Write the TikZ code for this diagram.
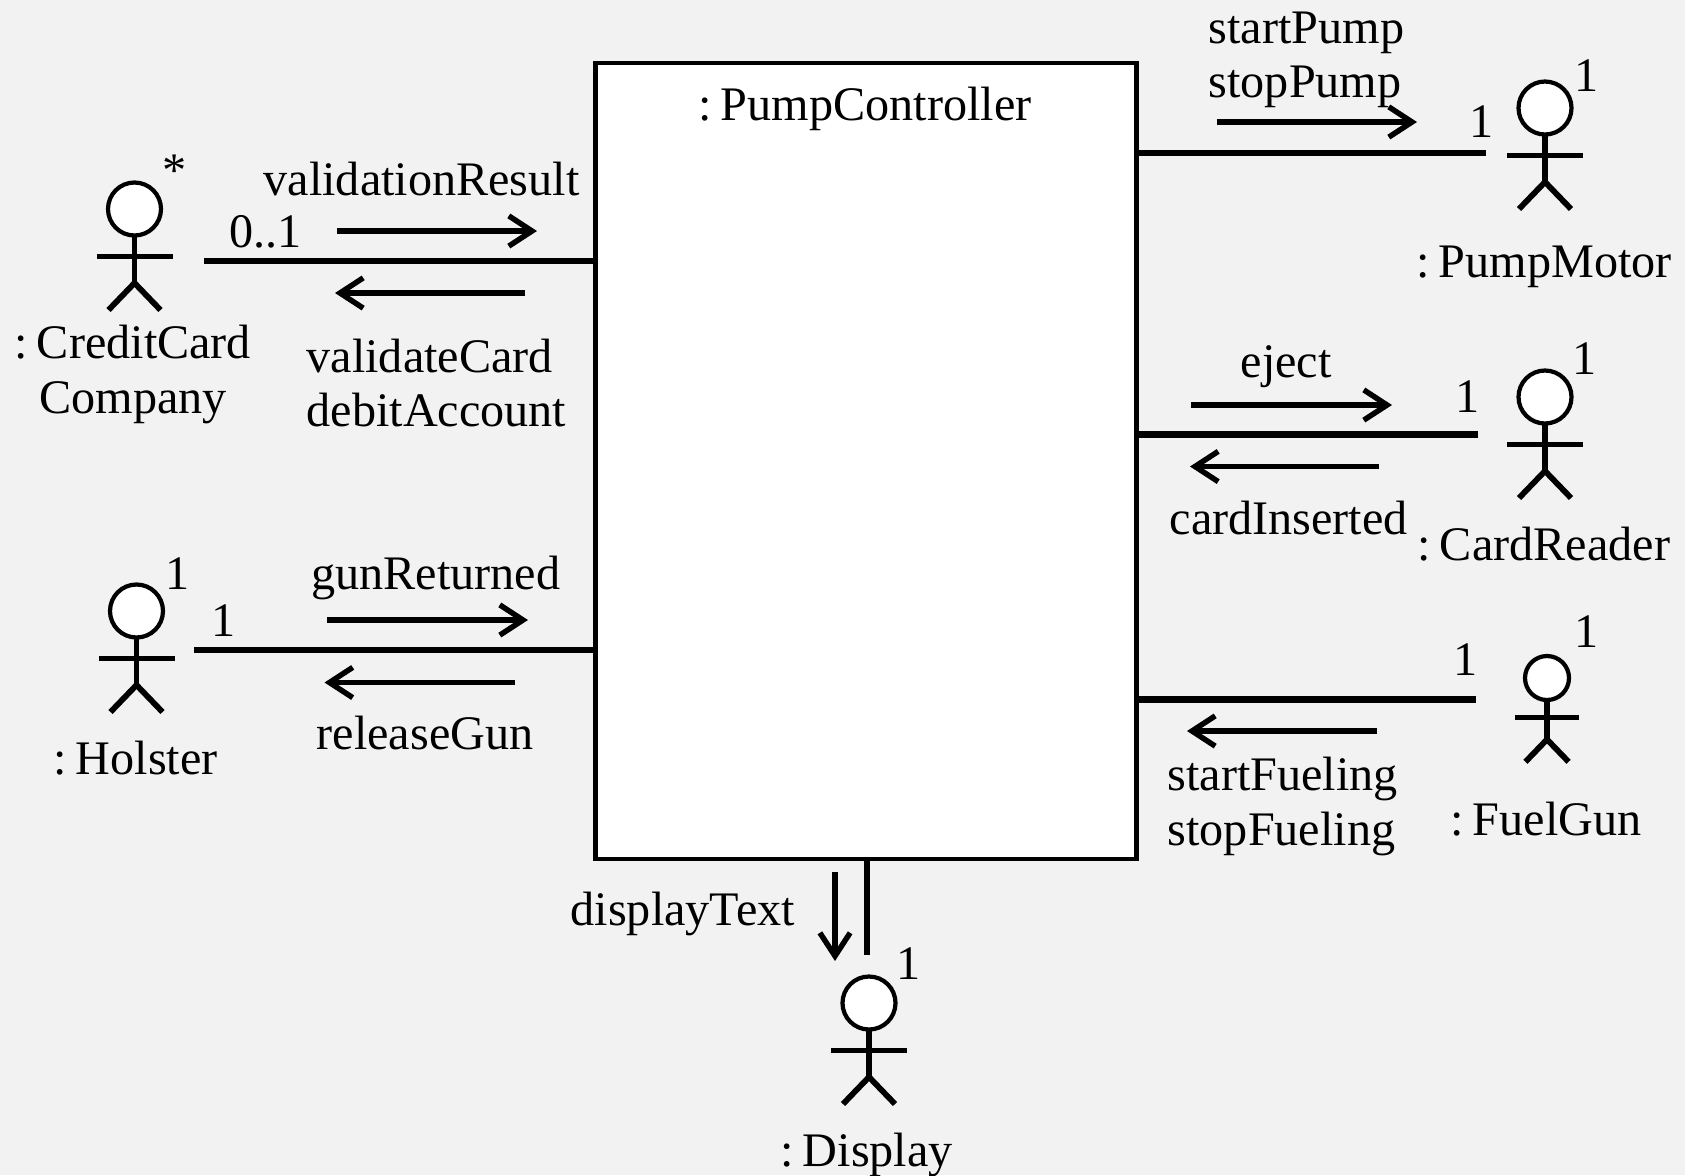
\documentclass[tikz,border=0pt]{standalone}
\usepackage{fontspec}
\setmainfont{Liberation Serif}
\usetikzlibrary{arrows.meta}
\definecolor{paper}{HTML}{F1F2F1}

\newcommand{\role}{:\kern-0.9pt\ }

\tikzset{
  lbl/.style={anchor=base west, inner sep=0pt, font=\fontsize{13.7}{16}\selectfont},
  assoc/.style={line width=1.75pt},
  msg/.style={line width=1.55pt, -{Straight Barb[length=6.6pt,width=8.6pt]}},
  actor/.pic={
    \draw[line width=1.2pt, fill=white] (0,0) circle (26.5);
    \draw[line width=1.65pt] (0,27) -- (0,74);
    \draw[line width=1.65pt] (-38,47.5) -- (38,47.5);
    \draw[line width=1.65pt] (-26,101) -- (0,74) -- (26,101);
  }
}

\begin{document}
\begin{tikzpicture}[x=0.01cm, y=-0.01cm]
  \useasboundingbox (0,0) rectangle (1685,1175);
  \fill[paper] (0,0) rectangle (1685,1175);

  % Controller box
  \node[draw, fill=white, line width=1.25pt, outer sep=0pt, minimum width=5.41cm, minimum height=7.95cm] (pc) at (866,461) {};
  \node[lbl] (pcLabel) at (698,120) {\role PumpController};

  % Credit card company
  \pic at (134.5,209) {actor};
  \coordinate (ccEnd) at (204,261);
  \draw[assoc] (pc.west |- ccEnd) -- (ccEnd);
  \coordinate (ccInA) at (337,231);
  \coordinate (ccInB) at (537,231);
  \draw[msg] (ccInA) -- (ccInB);
  \coordinate (ccOutA) at (525,293);
  \coordinate (ccOutB) at (335,293);
  \draw[msg] (ccOutA) -- (ccOutB);
  \node[lbl] (ccStar) at (162,186) {*};
  \node[lbl] (ccMult) at (229,247) {0..1};
  \node[lbl] (ccName) at (14,358) {\role CreditCard};
  \node[lbl] (ccNameB) at (39,413) {Company};
  \node[lbl] (ccResult) at (263,195) {validationResult};
  \node[lbl] (ccValidate) at (306,372) {validateCard};
  \node[lbl] (ccDebit) at (306,426) {debitAccount};

  % Holster
  \pic at (136.5,611) {actor};
  \coordinate (hoEnd) at (193.5,650);
  \draw[assoc] (pc.west |- hoEnd) -- (hoEnd);
  \coordinate (hoInA) at (327,620);
  \coordinate (hoInB) at (528,620);
  \draw[msg] (hoInA) -- (hoInB);
  \coordinate (hoOutA) at (515,682.5);
  \coordinate (hoOutB) at (324.5,682.5);
  \draw[msg] (hoOutA) -- (hoOutB);
  \node[lbl] (hoTop) at (165,589) {1};
  \node[lbl] (hoMult) at (211,636) {1};
  \node[lbl] (hoName) at (53,774) {\role Holster};
  \node[lbl] (hoReturned) at (310.5,589) {gunReturned};
  \node[lbl] (hoRelease) at (316,749) {releaseGun};

  % Pump motor
  \pic at (1545,108) {actor};
  \coordinate (pmEnd) at (1486,153);
  \draw[assoc] (pc.east |- pmEnd) -- (pmEnd);
  \coordinate (pmA) at (1217,122);
  \coordinate (pmB) at (1417,122);
  \draw[msg] (pmA) -- (pmB);
  \node[lbl] (pmTop) at (1574,91) {1};
  \node[lbl] (pmMult) at (1469,137) {1};
  \node[lbl] (pmName) at (1416,277) {\role PumpMotor};
  \node[lbl] (pmStart) at (1208,43) {startPump};
  \node[lbl] (pmStop) at (1208,97) {stopPump};

  % Card reader
  \pic at (1545,397) {actor};
  \coordinate (crEnd) at (1478,434.5);
  \draw[assoc] (pc.east |- crEnd) -- (crEnd);
  \coordinate (crInA) at (1191,405);
  \coordinate (crInB) at (1392,405);
  \draw[msg] (crInA) -- (crInB);
  \coordinate (crOutA) at (1379,466.5);
  \coordinate (crOutB) at (1190,466.5);
  \draw[msg] (crOutA) -- (crOutB);
  \node[lbl] (crTop) at (1572,374) {1};
  \node[lbl] (crMult) at (1455,412) {1};
  \node[lbl] (crName) at (1417,560) {\role CardReader};
  \node[lbl] (crEject) at (1240,377) {eject};
  \node[lbl] (crInserted) at (1169,534) {cardInserted};

  % Fuel gun
  \pic[scale=0.83] at (1547,678) {actor};
  \coordinate (fgEnd) at (1475.5,699.5);
  \draw[assoc] (pc.east |- fgEnd) -- (fgEnd);
  \coordinate (fgA) at (1377,731);
  \coordinate (fgB) at (1187,731);
  \draw[msg] (fgA) -- (fgB);
  \node[lbl] (fgTop) at (1574,647) {1};
  \node[lbl] (fgMult) at (1453,675) {1};
  \node[lbl] (fgName) at (1450,835) {\role FuelGun};
  \node[lbl] (fgStart) at (1167,790) {startFueling};
  \node[lbl] (fgStop) at (1167,845) {stopFueling};

  % Display
  \pic at (869,1003) {actor};
  \coordinate (diEnd) at (867,955);
  \draw[assoc] (pc.south -| diEnd) -- (diEnd);
  \coordinate (diA) at (835,871.5);
  \coordinate (diB) at (835,961);
  \draw[msg] (diA) -- (diB);
  \node[lbl] (diMult) at (896,979) {1};
  \node[lbl] (diName) at (780,1166) {\role Display};
  \node[lbl] (diText) at (570,925) {displayText};
\end{tikzpicture}
\end{document}
